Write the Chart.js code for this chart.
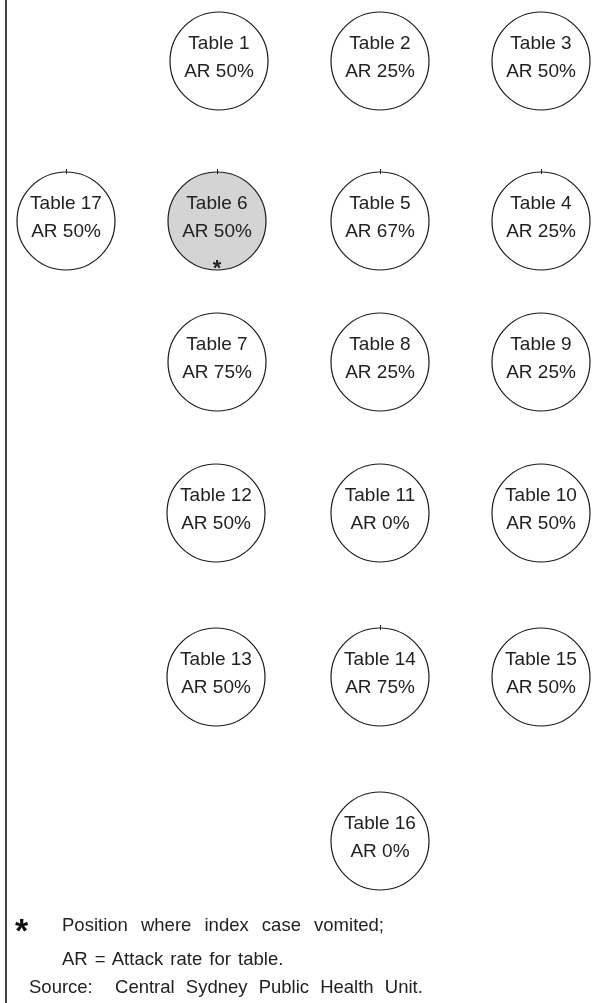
<!DOCTYPE html>
<html>
<head>
<meta charset="utf-8">
<script src="https://cdn.jsdelivr.net/npm/chart.js@4.4.1/dist/chart.umd.min.js"></script>
<style>
  html, body { margin: 0; padding: 0; background: #fff; }
  #wrap { position: relative; width: 613px; height: 1003px; overflow: hidden; }
  #border { position: absolute; left: 5px; top: 0; width: 2px; height: 1003px; background: #444; }
  canvas { position: absolute; left: 0; top: 0; }
  .note { position: absolute; font-family: "Liberation Sans", Arial, sans-serif; font-size: 18.5px; color: #222; white-space: nowrap; line-height: 20px; }
  .star { position: absolute; font-family: "Liberation Sans", Arial, sans-serif; font-size: 34px; font-weight: bold; color: #111; line-height: 34px; }
</style>
</head>
<body>
<div id="wrap">
  <canvas id="c" width="613" height="1003"></canvas>
  <div id="border"></div>
  <div class="star" style="left:15px; top:913px;">*</div>
  <div class="note" style="left:62px; top:915px; word-spacing:8px;">Position where index case vomited;</div>
  <div class="note" style="left:62px; top:949px; word-spacing:2px;">AR = Attack rate for table.</div>
  <div class="note" style="left:29px; top:977px; word-spacing:6px;">Source:&nbsp; Central Sydney Public Health Unit.</div>
</div>
<script>
// Table seating plan data
const tables     = ["Table 1","Table 2","Table 3","Table 17","Table 6","Table 5","Table 4","Table 7","Table 8","Table 9","Table 12","Table 11","Table 10","Table 13","Table 14","Table 15","Table 16"];
const attackRate = [50, 25, 50, 50, 50, 67, 25, 75, 25, 25, 50, 0, 50, 50, 75, 50, 0];
const colX       = [219, 380, 541, 66, 217, 380, 541, 217, 380, 541, 216, 380, 541, 216, 380, 541, 380];
const rowY       = [61, 61, 61, 221, 221, 221, 221, 362, 362, 362, 513, 513, 513, 677, 677, 677, 841];
const indexTable = "Table 6";

const RADIUS = 49;
const FONT = "19px 'Liberation Sans', Arial, sans-serif";
const fills = tables.map(t => t === indexTable ? "#d4d4d4" : "#ffffff");
const tickedTables = ["Table 17", "Table 6", "Table 5", "Table 4", "Table 14"];

const labelPlugin = {
  id: "tableLabels",
  afterDatasetsDraw(chart) {
    const ctx = chart.ctx;
    const meta = chart.getDatasetMeta(0);
    ctx.save();
    ctx.fillStyle = "#222";
    ctx.strokeStyle = "#1a1a1a";
    ctx.lineWidth = 1;
    ctx.textAlign = "center";
    ctx.textBaseline = "alphabetic";
    meta.data.forEach((pt, i) => {
      const x = pt.x, y = pt.y;
      ctx.font = FONT;
      ctx.fillText(tables[i], x, y - 12);
      ctx.fillText("AR " + attackRate[i] + "%", x, y + 16);
      if (tables[i] === indexTable) {
        ctx.font = "bold 22px 'Liberation Sans', Arial, sans-serif";
        ctx.fillText("*", x, y + 54);
      }
      if (tickedTables.includes(tables[i])) {
        ctx.beginPath();
        ctx.moveTo(Math.round(x) + 0.5, y - RADIUS - 3);
        ctx.lineTo(Math.round(x) + 0.5, y - RADIUS + 2);
        ctx.stroke();
      }
    });
    ctx.restore();
  }
};

new Chart(document.getElementById("c"), {
  type: "bubble",
  data: {
    datasets: [{
      data: tables.map((t, i) => ({ x: colX[i], y: rowY[i], r: RADIUS })),
      backgroundColor: fills,
      borderColor: "#1a1a1a",
      borderWidth: 1.2,
      hoverRadius: 0,
      clip: false
    }]
  },
  options: {
    responsive: false,
    animation: false,
    layout: { padding: 0, autoPadding: false },
    plugins: { legend: { display: false }, tooltip: { enabled: false } },
    events: [],
    scales: {
      x: { type: "linear", min: 0, max: 613, display: false },
      y: { type: "linear", min: 0, max: 1003, reverse: true, display: false }
    }
  },
  plugins: [labelPlugin]
});
</script>
</body>
</html>
